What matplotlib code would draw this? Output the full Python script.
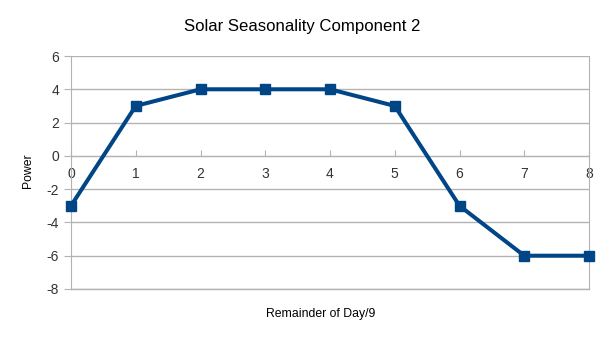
import matplotlib.pyplot as plt

plt.rcParams['font.family'] = ['Liberation Sans', 'DejaVu Sans']
plt.rcParams['axes.unicode_minus'] = False

days = [0, 1, 2, 3, 4, 5, 6, 7, 8]
power = [-3, 3, 4, 4, 4, 3, -3, -6, -6]
yticks = [-8, -6, -4, -2, 0, 2, 4, 6]

grid_col = '#b3b3b3'

fig = plt.figure(figsize=(6.05, 3.4), dpi=100)
ax = fig.add_axes([71 / 605, 1 - 289 / 340, (589 - 71) / 605, (289 - 56) / 340])

ax.plot(days, power, color='#004586', lw=2.9, marker='s', ms=7, clip_on=False, zorder=3)

ax.set_xlim(0, 8)
ax.set_ylim(-8, 6)
ax.set_yticks(yticks)
ax.set_xticks(days)
ax.yaxis.grid(True, color=grid_col, lw=1)
ax.axhline(-8, color=grid_col, lw=1, clip_on=False)

ax.spines['top'].set_visible(False)
ax.spines['bottom'].set_position(('data', 0))
ax.spines['bottom'].set_color(grid_col)
ax.spines['left'].set_color(grid_col)
ax.spines['right'].set_color(grid_col)

ax.tick_params(axis='y', length=5, color=grid_col, labelsize=10, labelcolor='#333333')
ax.tick_params(axis='x', direction='in', length=4, color=grid_col, labelsize=10,
               labelcolor='#333333', pad=8)

fig.suptitle('Solar Seasonality Component 2', fontsize=12.1, y=1 - 27 / 340, va='center')
fig.text(28 / 605, 1 - 171 / 340, 'Power', rotation=90, ha='center', va='center', fontsize=8.8)
fig.text(321 / 605, 1 - 314 / 340, 'Remainder of Day/9', ha='center', va='center', fontsize=8.8)

fig.savefig('out.png', dpi=100)
